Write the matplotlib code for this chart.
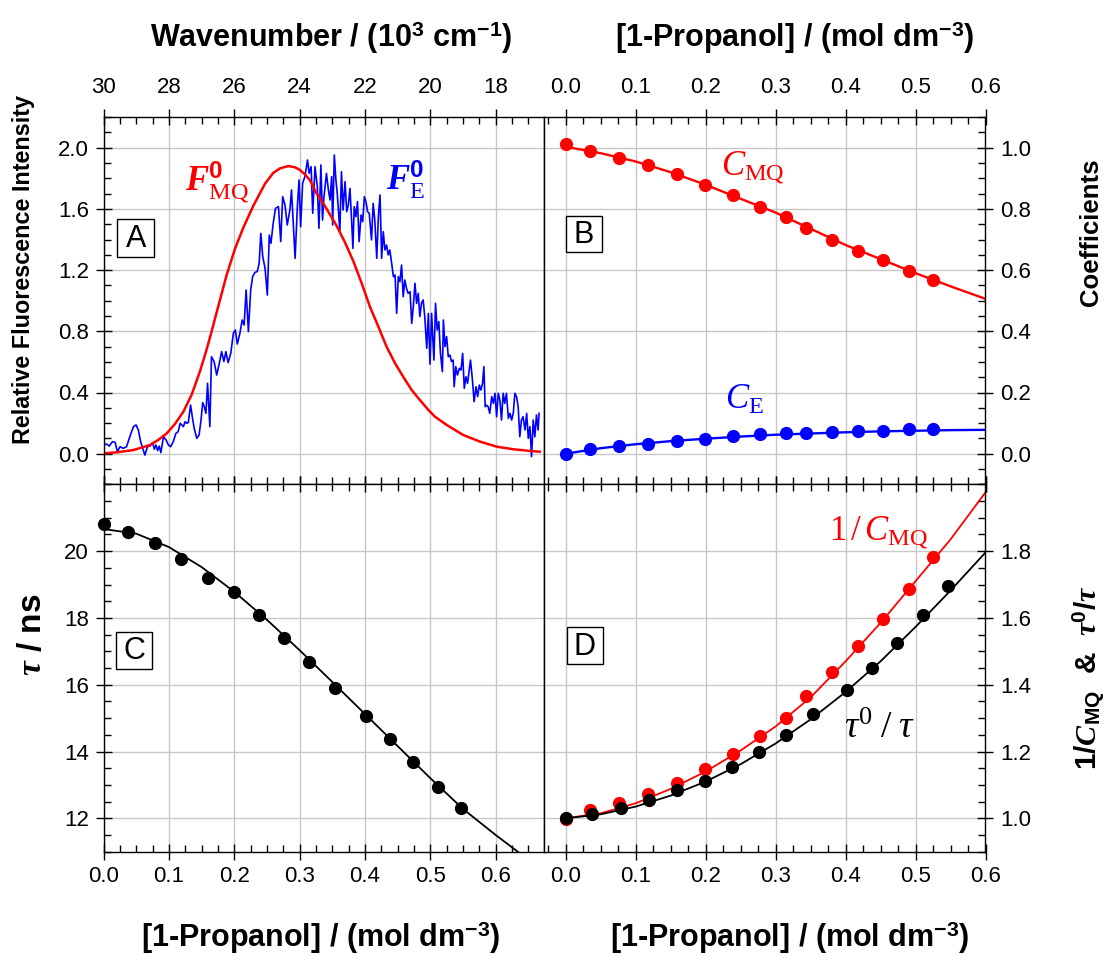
import matplotlib
matplotlib.use("Agg")
import matplotlib.pyplot as plt
from matplotlib.ticker import MultipleLocator
from matplotlib.patches import Rectangle

plt.rcParams['font.family'] = ['Liberation Sans', 'DejaVu Sans']
plt.rcParams['mathtext.fontset'] = 'custom'
plt.rcParams['mathtext.rm'] = 'Liberation Serif'
plt.rcParams['mathtext.it'] = 'Liberation Serif:italic'
plt.rcParams['mathtext.bf'] = 'Liberation Sans:bold'
plt.rcParams['mathtext.bfit'] = 'Liberation Serif:italic:bold'
plt.rcParams['mathtext.sf'] = 'Liberation Sans'

# ---- panel A : spectra (wavenumber in 10^3 cm-1) ----
w_MQ = [30.01, 29.60, 29.09, 28.58, 28.33, 28.07, 27.82, 27.56, 27.31, 27.05,
        26.85, 26.72, 26.59, 26.49, 26.24, 25.98, 25.73, 25.42, 25.06, 24.81,
        24.60, 24.35, 24.14, 23.99, 23.84, 23.69, 23.48, 23.23, 22.87, 22.61,
        22.36, 22.10, 21.85, 21.59, 21.34, 21.08, 20.83, 20.57, 20.32, 20.06,
        19.86, 19.50, 18.99, 18.48, 17.97, 17.46, 16.95, 16.65]
F_MQ = [0.002, 0.009, 0.024, 0.057, 0.090, 0.133, 0.194, 0.275, 0.384, 0.540,
        0.680, 0.780, 0.885, 0.965, 1.165, 1.340, 1.475, 1.620, 1.765, 1.835,
        1.865, 1.880, 1.872, 1.854, 1.826, 1.789, 1.700, 1.620, 1.490, 1.380,
        1.260, 1.113, 0.961, 0.830, 0.700, 0.591, 0.503, 0.416, 0.351, 0.286,
        0.242, 0.188, 0.122, 0.079, 0.046, 0.029, 0.018, 0.013]

w_E = [30.01, 29.91, 29.83, 29.73, 29.65, 29.58, 29.50, 29.40, 29.30, 29.20,
       29.09, 29.01, 28.94, 28.87, 28.79, 28.74, 28.66, 28.58, 28.50, 28.45,
       28.40, 28.35, 28.30, 28.25, 28.17, 28.09, 28.02, 27.95, 27.87, 27.79,
       27.72, 27.66, 27.61, 27.56, 27.51, 27.46, 27.41, 27.34, 27.28, 27.23,
       27.15, 27.08, 27.02, 26.97, 26.92, 26.87, 26.82, 26.75, 26.70, 26.62,
       26.54, 26.46, 26.39, 26.32, 26.26, 26.19, 26.11, 26.03, 25.97, 25.91,
       25.83, 25.76, 25.70, 25.64, 25.57, 25.50, 25.44, 25.37, 25.30, 25.24,
       25.19, 25.13, 25.06, 24.99, 24.93, 24.88, 24.81, 24.74, 24.65, 24.58,
       24.52, 24.45, 24.38, 24.30, 24.25, 24.14, 24.07, 24.02, 23.97, 23.91,
       23.84, 23.76, 23.71, 23.65, 23.60, 23.53, 23.46, 23.41, 23.35, 23.30,
       23.26, 23.18, 23.12, 23.07, 23.02, 22.99, 22.94, 22.89, 22.85, 22.81,
       22.77, 22.72, 22.67, 22.61, 22.56, 22.51, 22.46, 22.41, 22.37, 22.33,
       22.28, 22.23, 22.18, 22.12, 22.07, 22.02, 21.97, 21.92, 21.87, 21.80,
       21.75, 21.70, 21.64, 21.59, 21.54, 21.49, 21.44, 21.39, 21.34, 21.29,
       21.24, 21.19, 21.13, 21.08, 21.03, 20.98, 20.93, 20.88, 20.83, 20.78,
       20.73, 20.68, 20.62, 20.57, 20.52, 20.47, 20.42, 20.37, 20.32, 20.27,
       20.22, 20.17, 20.11, 20.06, 20.01, 19.96, 19.89, 19.84, 19.79, 19.74,
       19.69, 19.63, 19.60, 19.55, 19.50, 19.45, 19.40, 19.35, 19.30, 19.27,
       19.22, 19.17, 19.11, 19.06, 19.01, 18.96, 18.91, 18.86, 18.81, 18.77,
       18.71, 18.66, 18.60, 18.55, 18.50, 18.45, 18.40, 18.36, 18.32, 18.28,
       18.23, 18.18, 18.12, 18.07, 18.02, 17.97, 17.92, 17.87, 17.82, 17.77,
       17.72, 17.67, 17.61, 17.56, 17.51, 17.46, 17.41, 17.36, 17.31, 17.26,
       17.21, 17.16, 17.10, 17.05, 17.00, 16.95, 16.90, 16.85, 16.80, 16.75,
       16.70, 16.67]
F_E = [0.057, 0.063, 0.050, 0.079, 0.074, 0.013, 0.046, 0.035, 0.046, 0.111,
       0.177, 0.188, 0.155, 0.079, 0.024, -0.009, 0.046, 0.050, 0.072, 0.029,
       0.057, 0.020, 0.050, 0.007, 0.111, 0.090, 0.057, 0.046, 0.079, 0.133,
       0.144, 0.199, 0.188, 0.177, 0.209, 0.199, 0.203, 0.318, 0.231, 0.166,
       0.100, 0.122, 0.220, 0.334, 0.307, 0.264, 0.460, 0.177, 0.634, 0.602,
       0.514, 0.591, 0.667, 0.602, 0.667, 0.595, 0.656, 0.787, 0.809, 0.717,
       0.787, 0.874, 0.841, 1.070, 0.798, 1.070, 1.157, 1.185, 1.190, 1.244,
       1.440, 1.288, 1.212, 1.037, 1.429, 1.375, 1.506, 1.604, 1.615, 1.386,
       1.680, 1.626, 1.495, 1.593, 1.724, 1.277, 1.615, 1.789, 1.484, 1.767,
       1.811, 1.920, 1.832, 1.876, 1.571, 1.876, 1.745, 1.473, 1.887, 1.527,
       1.669, 1.832, 1.724, 1.658, 1.811, 1.495, 1.952, 1.789, 1.702, 1.582,
       1.451, 1.843, 1.593, 1.778, 1.582, 1.626, 1.734, 1.527, 1.342, 1.615,
       1.549, 1.647, 1.386, 1.560, 1.516, 1.680, 1.647, 1.582, 1.571, 1.397,
       1.636, 1.527, 1.277, 1.549, 1.691, 1.277, 1.451, 1.332, 1.364, 1.299,
       1.332, 1.255, 1.157, 1.168, 0.917, 1.157, 1.124, 1.233, 1.026, 1.135,
       1.081, 1.048, 1.059, 0.852, 0.961, 1.114, 0.983, 1.048, 0.896, 0.983,
       1.005, 0.896, 0.689, 0.917, 0.585, 0.917, 0.612, 0.983, 0.809, 0.863,
       0.656, 0.536, 0.874, 0.700, 0.765, 0.634, 0.645, 0.602, 0.612, 0.438,
       0.569, 0.514, 0.558, 0.547, 0.656, 0.427, 0.503, 0.460, 0.547, 0.612,
       0.482, 0.340, 0.438, 0.373, 0.449, 0.416, 0.460, 0.569, 0.307, 0.318,
       0.307, 0.264, 0.373, 0.329, 0.395, 0.242, 0.395, 0.351, 0.220, 0.395,
       0.329, 0.395, 0.231, 0.264, 0.220, 0.264, 0.395, 0.373, 0.307, 0.111,
       0.220, 0.242, 0.155, 0.264, 0.100, 0.177, -0.019, 0.220, 0.111, 0.253,
       0.155, 0.264]

# ---- panel B / D : coefficients ----
conc_B = [0.0, 0.035, 0.076, 0.117, 0.159, 0.199, 0.239, 0.278, 0.315, 0.343,
          0.380, 0.418, 0.454, 0.490, 0.525]
C_MQ = [1.011, 0.988, 0.966, 0.943, 0.913, 0.879, 0.844, 0.807, 0.773, 0.737,
        0.700, 0.664, 0.632, 0.598, 0.567]
C_E = [0.0, 0.016, 0.024, 0.033, 0.041, 0.047, 0.057, 0.063, 0.067, 0.069,
       0.072, 0.075, 0.075, 0.080, 0.080]
inv_C_MQ = [0.997, 1.024, 1.047, 1.073, 1.107, 1.147, 1.192, 1.246, 1.301, 1.366,
            1.438, 1.516, 1.596, 1.686, 1.781]

conc_fit = [0.0, 0.05, 0.1, 0.15, 0.2, 0.25, 0.3, 0.35, 0.4, 0.45, 0.5, 0.55, 0.6]
C_MQ_fit = [1.003, 0.982, 0.955, 0.920, 0.879, 0.833, 0.788, 0.735, 0.682, 0.636,
            0.590, 0.547, 0.506]
C_E_fit = [0.0, 0.018, 0.031, 0.041, 0.049, 0.056, 0.062, 0.066, 0.070, 0.073,
           0.075, 0.077, 0.078]
inv_C_MQ_fit = [1.0, 1.015, 1.045, 1.088, 1.140, 1.203, 1.275, 1.362, 1.470, 1.585,
                1.710, 1.835, 1.976]
tau_ratio_fit = [1.0, 1.012, 1.035, 1.068, 1.110, 1.162, 1.224, 1.296, 1.378, 1.470,
                 1.573, 1.682, 1.796]

# ---- panel C : lifetimes ----
conc_C = [0.0, 0.037, 0.079, 0.119, 0.159, 0.199, 0.238, 0.276, 0.315, 0.354,
          0.402, 0.438, 0.473, 0.511, 0.547]
tau = [20.82, 20.56, 20.23, 19.75, 19.20, 18.77, 18.09, 17.39, 16.69, 15.91,
       15.07, 14.37, 13.68, 12.95, 12.31]
tau_ratio = [1.002, 1.014, 1.030, 1.056, 1.086, 1.111, 1.153, 1.199, 1.249, 1.311,
             1.384, 1.451, 1.524, 1.610, 1.696]
conc_tau_fit = [0.0, 0.05, 0.1, 0.15, 0.2, 0.25, 0.3, 0.35, 0.4, 0.45, 0.5, 0.55,
                0.6, 0.65]
tau_fit = [20.66, 20.52, 20.12, 19.52, 18.78, 17.94, 17.03, 16.08, 15.12, 14.16,
           13.20, 12.28, 11.50, 10.76]

W, H = 1110, 956
fig = plt.figure(figsize=(W / 100, H / 100), dpi=100)

xl, xm, xr = 103.7, 544.3, 985.5
yt, ym, yb = 117.1, 484.3, 851.7
def box(x0, x1, y0, y1):
    return [x0 / W, 1 - y1 / H, (x1 - x0) / W, (y1 - y0) / H]

axA = fig.add_axes(box(xl, xm, yt, ym))
axB = fig.add_axes(box(xm, xr, yt, ym))
axC = fig.add_axes(box(xl, xm, ym, yb))
axD = fig.add_axes(box(xm, xr, ym, yb))

red, blue = '#ff0000', '#0000ff'
gridc = '#c8c8c8'

def style(ax):
    ax.tick_params(which='major', direction='inout', length=11, width=1,
                   labelsize=16, pad=5)
    ax.tick_params(which='minor', direction='in', length=5, width=1)
    ax.grid(True, which='major', color=gridc, lw=1)
    ax.set_axisbelow(True)
    for s in ax.spines.values():
        s.set_linewidth(1)

for ax in (axA, axB, axC, axD):
    style(ax)

# A
axA.plot(w_E, F_E, color=blue, lw=1.2)
axA.plot(w_MQ, F_MQ, color=red, lw=1.8)
axA.set_xlim(30, 16.51)
axA.set_ylim(-0.2, 2.2)
axA.xaxis.set_major_locator(MultipleLocator(2))
axA.xaxis.set_minor_locator(MultipleLocator(0.5))
axA.yaxis.set_minor_locator(MultipleLocator(0.1))
axA.set_yticks([0.0, 0.4, 0.8, 1.2, 1.6, 2.0])
axA.yaxis.set_major_formatter(plt.FormatStrFormatter('%.1f'))
axA.tick_params(which='both', top=True, bottom=True, labeltop=True,
                labelbottom=False, left=True, right=False)
axA.tick_params(axis='x', pad=8)
axA.text(0.185, 0.80, r'$\mathbfit{F}^{\mathbf{0}}_{\mathrm{MQ}}$', color=red,
         fontsize=25, transform=axA.transAxes)
axA.text(0.64, 0.80, r'$\mathbfit{F}^{\mathbf{0}}_{\mathrm{E}}$', color=blue,
         fontsize=25, transform=axA.transAxes)

# B
axB.plot(conc_fit, C_MQ_fit, color=red, lw=1.7)
axB.plot(conc_fit, C_E_fit, color=blue, lw=1.7)
axB.plot(conc_B, C_MQ, 'o', color=red, ms=8.5)
axB.plot(conc_B, C_E, 'o', color=blue, ms=8.5)
axB.set_xlim(-0.0306, 0.6)
axB.set_ylim(-0.1, 1.1)
axB.xaxis.set_major_locator(MultipleLocator(0.1))
axB.xaxis.set_minor_locator(MultipleLocator(0.025))
axB.set_yticks([0.0, 0.2, 0.4, 0.6, 0.8, 1.0])
axB.yaxis.set_minor_locator(MultipleLocator(0.05))
axB.xaxis.set_major_formatter(plt.FormatStrFormatter('%.1f'))
axB.yaxis.set_major_formatter(plt.FormatStrFormatter('%.1f'))
axB.tick_params(which='both', top=True, bottom=True, labeltop=True,
                labelbottom=False, left=False, right=True, labelleft=False,
                labelright=True)
axB.tick_params(axis='x', pad=8)
axB.text(0.4, 0.845, r'$C_{\mathrm{MQ}}$', color=red, fontsize=25,
         transform=axB.transAxes)
axB.text(0.41, 0.205, r'$C_{\mathrm{E}}$', color=blue, fontsize=25,
         transform=axB.transAxes)

# C
axC.plot(conc_tau_fit, tau_fit, color='black', lw=1.3)
axC.plot(conc_C, tau, 'o', color='black', ms=8.5, clip_on=False)
axC.set_xlim(0, 0.6744)
axC.set_ylim(11, 22)
axC.xaxis.set_minor_locator(MultipleLocator(0.025))
axC.set_xticks([0.0, 0.1, 0.2, 0.3, 0.4, 0.5, 0.6])
axC.set_yticks([12, 14, 16, 18, 20])
axC.yaxis.set_minor_locator(MultipleLocator(0.5))
axC.xaxis.set_major_formatter(plt.FormatStrFormatter('%.1f'))
axC.tick_params(which='both', top=True, bottom=True, left=True, right=False)

# D
axD.plot(conc_fit, inv_C_MQ_fit, color=red, lw=1.3)
axD.plot(conc_B, inv_C_MQ, 'o', color=red, ms=8.5)
axD.plot(conc_fit, tau_ratio_fit, color='black', lw=1.3)
axD.plot(conc_C, tau_ratio, 'o', color='black', ms=8.5)
axD.set_xlim(-0.0306, 0.6)
axD.set_ylim(0.9, 2.0)
axD.xaxis.set_major_locator(MultipleLocator(0.1))
axD.xaxis.set_minor_locator(MultipleLocator(0.025))
axD.set_yticks([1.0, 1.2, 1.4, 1.6, 1.8])
axD.yaxis.set_minor_locator(MultipleLocator(0.05))
axD.xaxis.set_major_formatter(plt.FormatStrFormatter('%.1f'))
axD.yaxis.set_major_formatter(plt.FormatStrFormatter('%.1f'))
axD.tick_params(which='both', top=True, bottom=True, left=False, right=True,
                labelleft=False, labelright=True)
axD.text(0.645, 0.85, r'$1\,/\,C_{\mathrm{MQ}}$', color=red, fontsize=25,
         transform=axD.transAxes)
axD.text(0.68, 0.31, r'$\tau^{0}\;/\;\tau$', color='black', fontsize=27,
         transform=axD.transAxes)

# panel letters in boxes (pixel boxes)
for lab, x0, y0, x1, y1 in [('A', 117.3, 219.3, 154.3, 256.7),
                            ('B', 565.7, 215.7, 602.3, 252.3),
                            ('C', 115.7, 631.7, 152.3, 669.0),
                            ('D', 566.7, 627.3, 603.3, 664.3)]:
    fig.patches.append(Rectangle((x0 / W, 1 - y1 / H), (x1 - x0) / W, (y1 - y0) / H,
                                 transform=fig.transFigure, fc='white', ec='black',
                                 lw=1, zorder=5))
    fig.text((x0 + x1) / 2 / W, 1 - ((y0 + y1) / 2 + 1) / H, lab, fontsize=22,
             ha='center', va='center', zorder=6)

# axis titles
bold = dict(fontweight='bold', ha='center', va='center')
fig.text(331 / W, 1 - 38 / H, r'Wavenumber / (10$^{\mathbf{3}}$ cm$^{\mathbf{-1}}$)',
         fontsize=22, **bold)
fig.text(795 / W, 1 - 38 / H, r'[1-Propanol] / (mol dm$^{\mathbf{-3}}$)',
         fontsize=22, **bold)
fig.text(321 / W, 1 - 938 / H, r'[1-Propanol] / (mol dm$^{\mathbf{-3}}$)',
         fontsize=22, **bold)
fig.text(790 / W, 1 - 938 / H, r'[1-Propanol] / (mol dm$^{\mathbf{-3}}$)',
         fontsize=22, **bold)
fig.text(24 / W, 1 - 270 / H, 'Relative Fluorescence Intensity', rotation=90,
         fontsize=16.8, **bold)
fig.text(32 / W, 1 - 635 / H, r'$\mathbfit{\tau}$ / ns', rotation=90,
         fontsize=24, **bold)
fig.text(1091 / W, 1 - 232 / H, 'Coefficients', rotation=90,
         fontsize=18.5, **bold)
fig.text(1089 / W, 1 - 678 / H,
         r'1/$\mathbfit{C}_{\mathbf{MQ}}$  &  $\mathbfit{\tau}^{\mathbf{0}}$/$\mathbfit{\tau}$',
         rotation=90, fontsize=21.5, **bold)

fig.savefig('out.png', dpi=100)
